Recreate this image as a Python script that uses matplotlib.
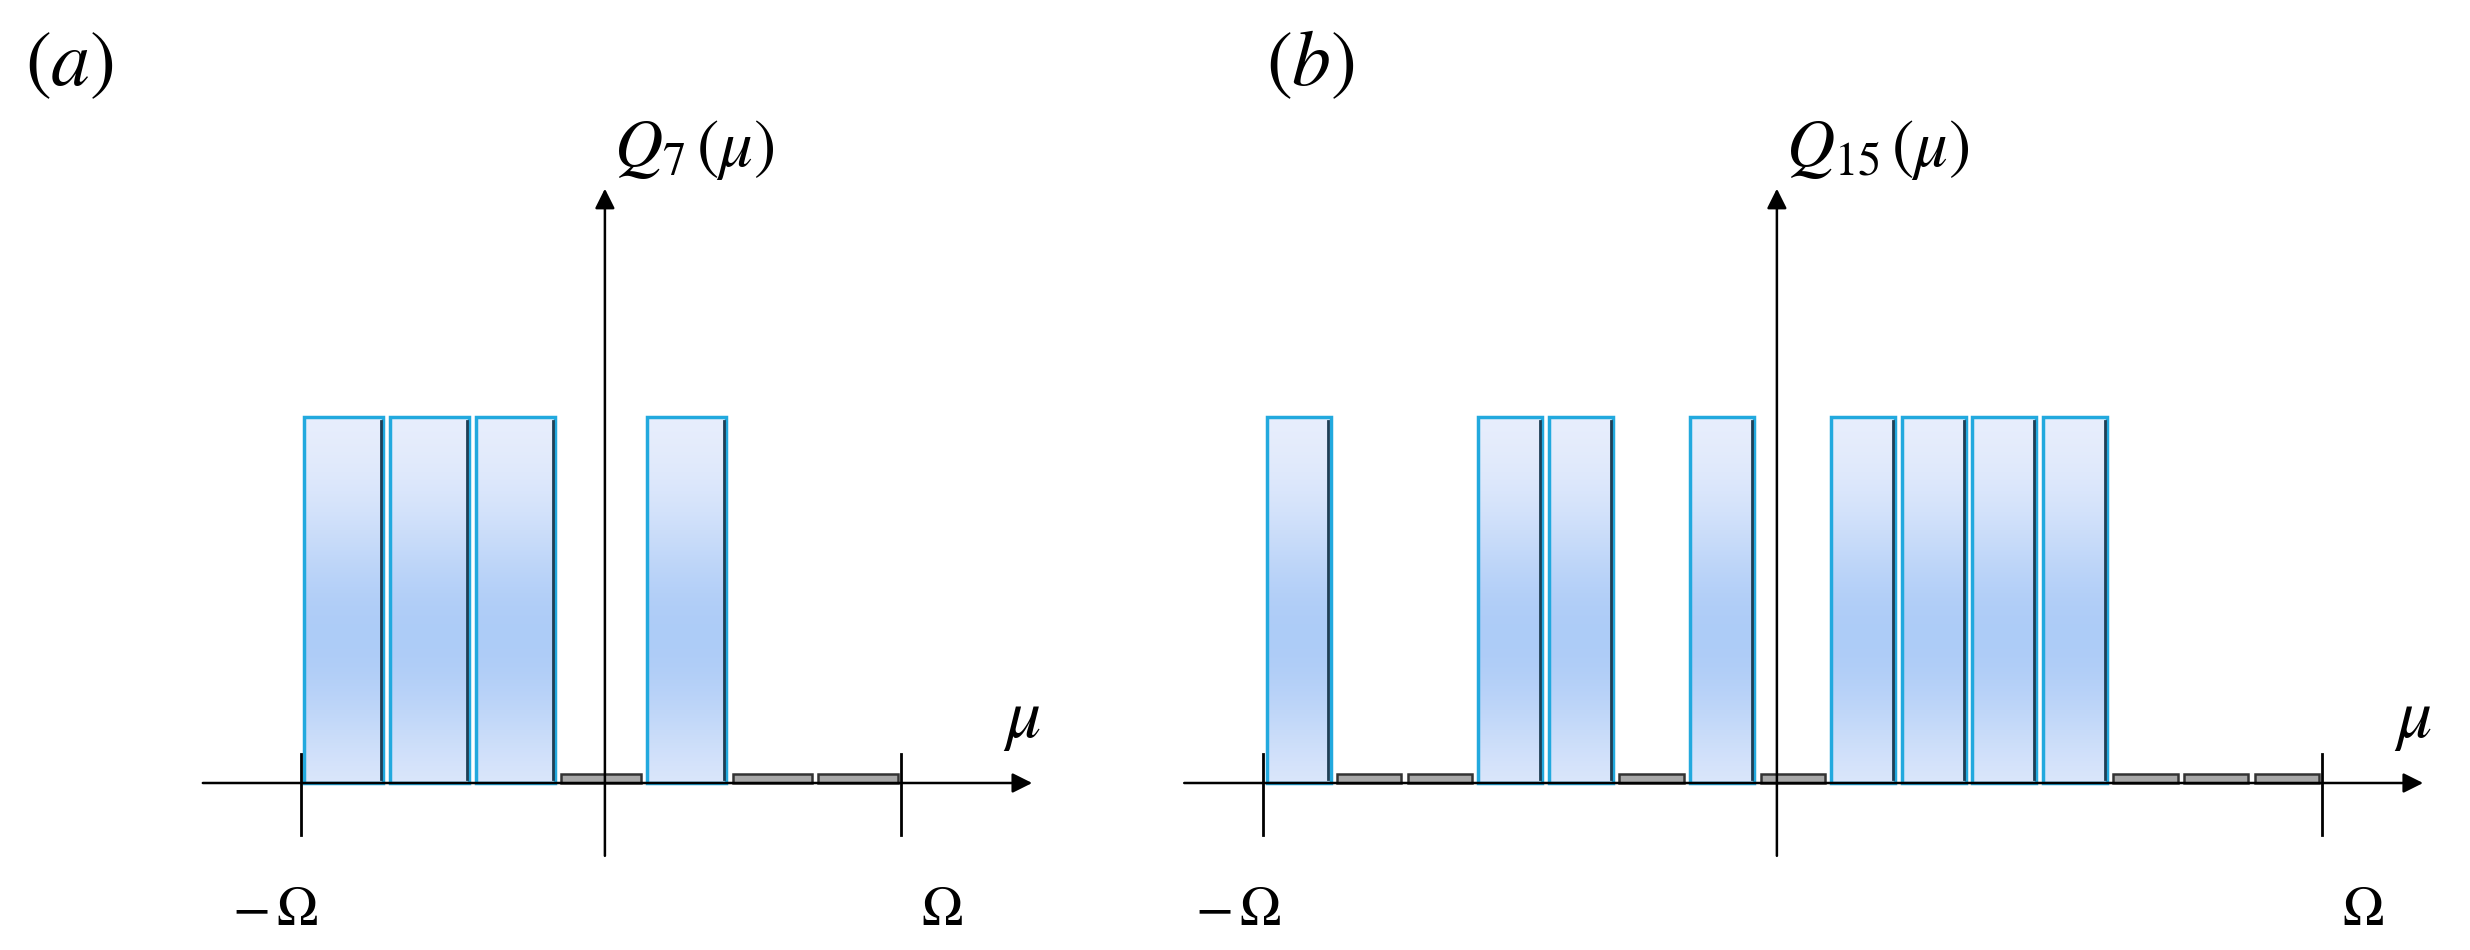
import numpy as np
import matplotlib

matplotlib.use("Agg")
import matplotlib.pyplot as plt
from matplotlib.patches import Rectangle

plt.rcParams["mathtext.fontset"] = "stix"
plt.rcParams["font.family"] = ["Liberation Serif", "DejaVu Serif"]

# bar pattern (1 = tall, 0 = flat) for each panel
pattern_a = [1, 1, 1, 0, 1, 0, 0]
pattern_b = [1, 0, 0, 1, 1, 0, 1, 0, 1, 1, 1, 1, 0, 0, 0]
labels = ["(a)", "(b)"]
ylabels = [r"$Q_7\,(\mu)$", r"$Q_{15}\,(\mu)$"]

W, H = 1568.0, 603.0  # layout reference in screen px
fig = plt.figure(figsize=(24.7, 9.5), dpi=100)

# vertical gradient: light at ends, bluer in middle
t = np.linspace(0, 1, 200)
prof = np.exp(-((t - 0.6) / 0.35) ** 2)
light = np.array([0.92, 0.94, 0.99])
blue = np.array([0.68, 0.80, 0.97])
grad = light[None, :] * (1 - prof[:, None]) + blue[None, :] * prof[:, None]
grad = grad[:, None, :].repeat(2, axis=1)


def panel(pattern, left_px, right_px, vaxis_px, xmin_px, xmax_px, label, ylab, label_px):
    base, top = 497.0, 265.0
    ax = fig.add_axes([left_px / W, 1 - base / H, (right_px - left_px) / W, (base - top) / H])
    ax.set_xlim(-1, 1)
    ax.set_ylim(0, 1)
    ax.axis("off")
    s = 2.0 / (right_px - left_px)  # data units per px
    n = len(pattern)
    w = 2.0 / n
    gap = 2 * s
    for i, v in enumerate(pattern):
        x0 = -1 + i * w + gap
        bw = w - 2 * gap
        if v:
            ax.imshow(grad, extent=[x0, x0 + bw, 0, 1], aspect="auto", origin="upper",
                      zorder=2, clip_on=False)
            ax.add_patch(Rectangle((x0, 0), bw, 1, fill=False, edgecolor="#22a9de",
                                   lw=2.5, zorder=3, clip_on=False))
            ax.plot([x0 + bw - 1.5 * s] * 2, [0.01, 0.99], color="#1f3f55", lw=2, zorder=3)
        else:
            ax.add_patch(Rectangle((x0, 0), bw, 0.025, facecolor="#a8a8a8",
                                   edgecolor="#333333", lw=1.8, zorder=3, clip_on=False))
    ys = 1.0 / (base - top)
    # horizontal axis with arrow
    xa0 = -1 + (xmin_px - left_px) * s
    xa1 = -1 + (xmax_px - left_px) * s
    ax.annotate("", xy=(xa1, 0), xytext=(xa0, 0), annotation_clip=False,
                arrowprops=dict(arrowstyle="-|>", color="black", lw=1.8, mutation_scale=30))
    xv = -1 + (vaxis_px - left_px) * s
    ax.annotate("", xy=(xv, (base - 118) * ys), xytext=(xv, -(545 - base) * ys), annotation_clip=False,
                arrowprops=dict(arrowstyle="-|>", color="black", lw=1.8, mutation_scale=30))
    for xe in (-1, 1):
        ax.plot([xe, xe], [-(530 - base) * ys, 0.08], color="black", lw=2, clip_on=False, zorder=4)
    ax.text(-1 - 16 * s, -(578 - base) * ys, r"$-\,\Omega$", fontsize=40, ha="center", va="center")
    ax.text(1 + 26 * s, -(578 - base) * ys, r"$\Omega$", fontsize=40, ha="center", va="center")
    ax.text(xa1 - 8 * s, (base - 458) * ys, r"$\mu$", fontsize=50, ha="center", va="center")
    ax.text(xv + 6 * s, (base - 95) * ys, ylab, fontsize=48, ha="left", va="center")
    fig.text(label_px / W, 1 - 42 / H, r"$\left(%s\right)$" % label[1], fontsize=56, ha="center", va="center")


panel(pattern_a, 191, 572, 384, 127, 657, labels[0], ylabels[0], 44)
panel(pattern_b, 802, 1474, 1128, 750, 1540, labels[1], ylabels[1], 832)

fig.savefig("out.png", dpi=100)
